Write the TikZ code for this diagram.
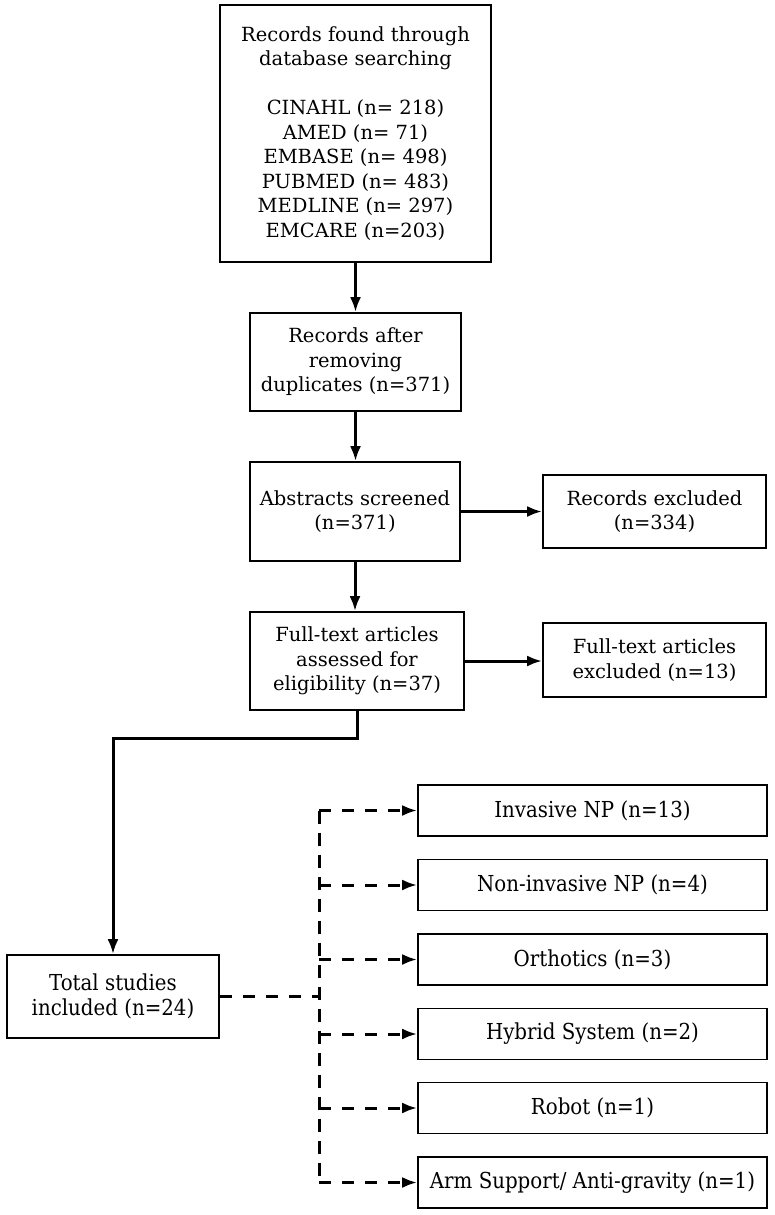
\documentclass[tikz,border=0pt]{standalone}
\usepackage{fontspec}
\setmainfont{DejaVu Serif}
\newfontfamily\narrowfont[FakeStretch=0.9]{DejaVu Serif}
\usetikzlibrary{arrows.meta}
\newcommand{\boxfont}{\fontsize{19.5}{24.5}\selectfont}
\newcommand{\narrowboxfont}{\narrowfont\fontsize{22}{24.5}\selectfont}

\begin{document}
\begin{tikzpicture}[x=1pt,y=-1pt,
  box/.style={draw,line width=1.7pt,align=center,inner sep=0pt,font=\boxfont},
  catbox/.style={box,minimum width=349,minimum height=51,font=\narrowboxfont},
  flow/.style={line width=3pt,-{Latex[length=15pt,width=11pt]}},
  branch/.style={flow,dash pattern=on 12pt off 11pt}]
\useasboundingbox (0,0) rectangle (774,1215);

\node[box,minimum width=271,minimum height=257] (found) at (355.5,133.5)
  {Records found through\\database searching\\[24.5pt]CINAHL (n= 218)\\AMED (n= 71)\\EMBASE (n= 498)\\PUBMED (n= 483)\\MEDLINE (n= 297)\\EMCARE (n=203)};
\node[box,minimum width=211,minimum height=98] (dups) at (355.5,362)
  {Records after\\removing\\duplicates (n=371)};
\node[box,minimum width=210,minimum height=99] (abstr) at (355,511.5)
  {Abstracts screened\\(n=371)};
\node[box,minimum width=223,minimum height=73] (recexcl) at (654.5,511.5)
  {Records excluded\\(n=334)};
\node[box,minimum width=214,minimum height=98] (fulltext) at (357,661)
  {Full-text articles\\assessed for\\eligibility (n=37)};
\node[box,minimum width=223,minimum height=74] (fullexcl) at (654.5,660)
  {Full-text articles\\excluded (n=13)};
\node[box,minimum width=212,minimum height=83,font=\narrowboxfont] (total) at (113,996.5)
  {Total studies\\included (n=24)};

\node[catbox] (invasive) at (592.5,810.5) {Invasive NP (n=13)};
\node[catbox] (noninvasive) at (592.5,885) {Non-invasive NP (n=4)};
\node[catbox] (orthotics) at (592.5,959.5) {Orthotics (n=3)};
\node[catbox] (hybrid) at (592.5,1034) {Hybrid System (n=2)};
\node[catbox] (robot) at (592.5,1108) {Robot (n=1)};
\node[catbox] (armsupport) at (592.5,1182.5) {Arm Support/ Anti-gravity (n=1)};

\coordinate (elbow) at (113,738);
\coordinate (split) at (319,996.5);

% main flow
\draw[flow] (found.south) -- (found.south |- dups.north);
\draw[flow] (dups.south) -- (dups.south |- abstr.north);
\draw[flow] (abstr.south) -- (abstr.south |- fulltext.north);
\draw[flow] (abstr.east) -- (abstr.east -| recexcl.west);
\draw[flow] (fulltext.east) -- (fulltext.east -| fullexcl.west);
\draw[flow] (fulltext.south) |- (elbow) -- (total.north);

% categories
\draw[line width=3pt,dash pattern=on 12pt off 11pt] (total.east) -- (split);
\draw[line width=3pt,dash pattern=on 13pt off 9pt] (split |- invasive) -- (split |- armsupport);
\draw[branch] (split |- invasive) -- (invasive.west);
\draw[branch] (split |- noninvasive) -- (noninvasive.west);
\draw[branch] (split |- orthotics) -- (orthotics.west);
\draw[branch] (split |- hybrid) -- (hybrid.west);
\draw[branch] (split |- robot) -- (robot.west);
\draw[branch] (split |- armsupport) -- (armsupport.west);
\end{tikzpicture}
\end{document}
